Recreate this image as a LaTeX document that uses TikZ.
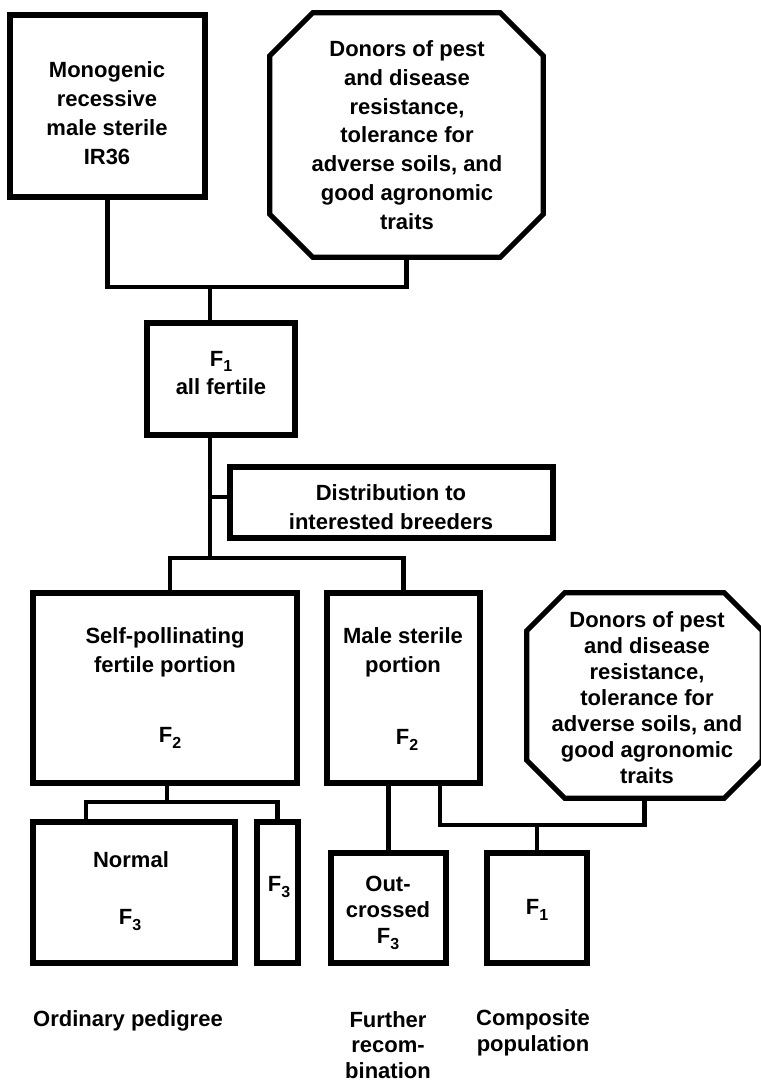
\documentclass[tikz,border=0pt]{standalone}
\usepackage{fontspec}
\setmainfont{Liberation Sans}
\usetikzlibrary{fit,calc}
\newcommand\subs[1]{\raisebox{-0.5ex}{\fontsize{12}{12}\selectfont #1}}
\begin{document}
\begin{tikzpicture}[x=0.75pt,y=-0.75pt,
  boxline/.style={line width=3.8pt, line join=miter},
  box/.style={draw, boxline, inner sep=0pt},
  shapeonly/.style={inner sep=0pt},
  conn/.style={line width=3.4pt},
  txt/.style={align=center, inner sep=0pt, font=\fontsize{16.5}{21.6}\selectfont\bfseries},
  txtb/.style={align=center, inner sep=0pt, font=\fontsize{16.5}{19.3}\selectfont\bfseries}]
\useasboundingbox (0,0) rectangle (760,1084);

% boxes
\node[box, fit={(10,15) (205,197)}] (ms) {};
\node[shapeonly, fit={(270,13) (543,257)}] (don1) {};
\node[box, fit={(147,323) (295,435)}] (f1) {};
\node[box, fit={(230,467) (553,538)}] (dist) {};
\node[box, fit={(33,593) (297,783)}] (self) {};
\node[box, fit={(327,593) (480,783)}] (male) {};
\node[shapeonly, fit={(527,593) (762,798)}] (don2) {};
\node[box, fit={(33,822) (235,963)}] (normal) {};
\node[box, fit={(257,822) (298,963)}] (narrow) {};
\node[box, fit={(331,853) (446,963)}] (outc) {};
\node[box, fit={(487,853) (587,963)}] (f1b) {};

% octagons
\draw[boxline] ($(don1.north west)+(43,0)$) -- ($(don1.north east)+(-43,0)$)
  -- ($(don1.north east)+(0,43)$) -- ($(don1.south east)+(0,-43)$)
  -- ($(don1.south east)+(-43,0)$) -- ($(don1.south west)+(43,0)$)
  -- ($(don1.south west)+(0,-43)$) -- ($(don1.north west)+(0,43)$) -- cycle;
\draw[boxline] ($(don2.north west)+(38,0)$) -- ($(don2.north east)+(-38,0)$)
  -- ($(don2.north east)+(0,38)$) -- ($(don2.south east)+(0,-38)$)
  -- ($(don2.south east)+(-38,0)$) -- ($(don2.south west)+(38,0)$)
  -- ($(don2.south west)+(0,-38)$) -- ($(don2.north west)+(0,38)$) -- cycle;

% junctions
\coordinate (j1) at (210,287);
\coordinate (j2) at (210,558);
\coordinate (jsl) at (170,558);
\coordinate (j3) at (167,802);
\coordinate (jn) at (86,802);
\coordinate (jm) at (440,825);

% connectors
\draw[conn] (ms.south) |- (j1) -| (don1.south);
\draw[conn] (j1) -- (f1.north -| j1);
\draw[conn] (f1.south -| j1) -- (j2);
\draw[conn] (dist.west |- 0,497) -- (j1 |- 0,497);
\draw[conn] (self.north -| jsl) -- (jsl) -| (male.north);
\draw[conn] (self.south -| j3) -- (j3);
\draw[conn] (normal.north -| jn) -- (jn) -| (narrow.north);
\draw[conn] (outc.north) -- (outc.north |- male.south);
\draw[conn] (male.south -| jm) -- (jm) -| (don2.south);
\draw[conn] (f1b.north) -- (f1b.north |- jm);

% texts
\node[txt] (t1) at (107,113) {Monogenic\\recessive\\male sterile\\IR36};
\node[txt] (t2) at (407,135) {Donors of pest\\and disease\\resistance,\\tolerance for\\adverse soils, and\\good agronomic\\traits};
\node[txt] (t3) at (221,373) {F\subs{1}\\all fertile};
\node[txt] (t4) at (391,507) {Distribution to\\interested breeders};
\node[txt] (t5) at (165,652) {Self-pollinating\\fertile portion};
\node[txt] (t6) at (170,738) {F\subs{2}};
\node[txt] (t7) at (403,652) {Male sterile\\portion};
\node[txt] (t8) at (407,740) {F\subs{2}};
\node[txtb, font=\fontsize{16.5}{19.5}\selectfont\bfseries] (t9) at (647,698) {Donors of pest\\and disease\\resistance,\\tolerance for\\adverse soils, and\\good agronomic\\traits};
\node[txt] (t10) at (131,860) {Normal};
\node[txt] (t11) at (130,920) {F\subs{3}};
\node[txt] (t12) at (279,887) {F\subs{3}};
\node[txtb] (t13) at (388,913) {Out-\\crossed\\F\subs{3}};
\node[txt] (t14) at (537,910) {F\subs{1}};
\node[txt] (t15) at (128,1021) {Ordinary pedigree};
\node[txtb] (t16) at (388,1045) {Further\\recom-\\bination};
\node[txtb] (t17) at (533,1033) {Composite\\population};
\end{tikzpicture}
\end{document}
